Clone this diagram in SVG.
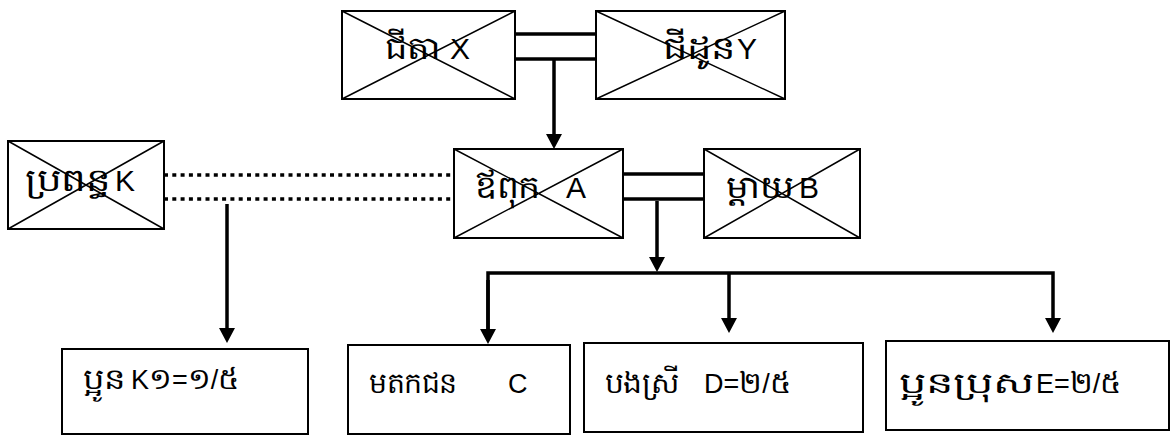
<svg xmlns="http://www.w3.org/2000/svg" width="1174" height="435" viewBox="0 0 1174 435">
<style>
.box{fill:#fff;stroke:#000;stroke-width:2}
.diag{stroke:#000;stroke-width:1.5;fill:none}
.con{stroke:#000;stroke-width:3.5;fill:none}
.dot{stroke:#000;stroke-width:3.5;fill:none;stroke-dasharray:4 4.3}
text{font-family:"Liberation Sans","Noto Sans","DejaVu Sans",sans-serif;fill:#000}
.t{font-size:30px}
.b{font-size:27px}
.kt{font-size:32px}
.kb{font-size:29px}
.kd{font-size:30px}
</style>
<defs>
<marker id="ah" markerUnits="userSpaceOnUse" viewBox="0 0 15 16" refX="5" refY="8" markerWidth="15" markerHeight="16" orient="auto">
<path d="M0,0 L15,8 L0,16 Z" fill="#000"/>
</marker>
</defs>
<g id="connectors">
<line class="con" x1="515" y1="34" x2="596" y2="34"/>
<line class="con" x1="515" y1="59" x2="596" y2="59"/>
<line class="con" x1="554" y1="59" x2="554" y2="139" marker-end="url(#ah)"/>
<line class="con" x1="623" y1="174" x2="704" y2="174"/>
<line class="con" x1="623" y1="199" x2="704" y2="199"/>
<line class="con" x1="657" y1="201" x2="657" y2="262" marker-end="url(#ah)"/>
<line class="dot" x1="164" y1="175" x2="454" y2="175"/>
<line class="dot" x1="164" y1="199" x2="454" y2="199"/>
<line class="con" x1="227" y1="204" x2="227" y2="333" marker-end="url(#ah)"/>
<polyline class="con" points="488,334 488,273 1053,273 1053,323" marker-end="url(#ah)"/>
<line class="con" x1="488" y1="280" x2="488" y2="334" marker-end="url(#ah)"/>
<line class="con" x1="729" y1="273" x2="729" y2="323" marker-end="url(#ah)"/>
</g>
<g id="node-x">
<rect class="box" x="342" y="11" width="173" height="88"/>
<path class="diag" d="M342,11 L515,99 M515,11 L342,99"/>
<text class="kt" x="385" y="59" textLength="55" lengthAdjust="spacingAndGlyphs">ជីតា</text>
<text class="t" x="450" y="59">X</text>
</g>
<g id="node-y">
<rect class="box" x="596" y="11" width="189" height="88"/>
<path class="diag" d="M596,11 L785,99 M785,11 L596,99"/>
<text class="kt" x="663" y="59" textLength="72" lengthAdjust="spacingAndGlyphs">ជីដូន</text>
<text class="t" x="737" y="59">Y</text>
</g>
<g id="node-k">
<rect class="box" x="8" y="141" width="156" height="88"/>
<path class="diag" d="M8,141 L164,229 M164,141 L8,229"/>
<text class="kt" x="25" y="191" textLength="85" lengthAdjust="spacingAndGlyphs">ប្រពន្ធ</text>
<text class="t" x="115" y="191">K</text>
</g>
<g id="node-a">
<rect class="box" x="454" y="149" width="169" height="89"/>
<path class="diag" d="M454,149 L623,238 M623,149 L454,238"/>
<text class="kt" x="475" y="198" textLength="65" lengthAdjust="spacingAndGlyphs">ឪពុក</text>
<text class="t" x="566" y="198">A</text>
</g>
<g id="node-b">
<rect class="box" x="704" y="149" width="156" height="89"/>
<path class="diag" d="M704,149 L860,238 M860,149 L704,238"/>
<text class="kt" x="726" y="198" textLength="67" lengthAdjust="spacingAndGlyphs">ម្តាយ</text>
<text class="t" x="799" y="198">B</text>
</g>
<g id="node-k1">
<rect class="box" x="62" y="349" width="246" height="85"/>
<text class="kb" x="83" y="389" textLength="42" lengthAdjust="spacingAndGlyphs">ប្អូន</text>
<text class="b" x="131" y="389">K<tspan class="kd">១</tspan>=<tspan class="kd">១</tspan>/<tspan class="kd">៥</tspan></text>
</g>
<g id="node-c">
<rect class="box" x="348" y="345" width="222" height="89"/>
<text class="kb" x="369" y="393" textLength="88" lengthAdjust="spacingAndGlyphs">មតកជន</text>
<text class="b" x="508" y="393">C</text>
</g>
<g id="node-d">
<rect class="box" x="584" y="343" width="279" height="89"/>
<text class="kb" x="605" y="393" textLength="75" lengthAdjust="spacingAndGlyphs">បងស្រី</text>
<text class="b" x="704" y="393">D=<tspan class="kd">២</tspan>/<tspan class="kd">៥</tspan></text>
</g>
<g id="node-e">
<rect class="box" x="886" y="341" width="283" height="89"/>
<text class="kb" x="899" y="393" textLength="136" lengthAdjust="spacingAndGlyphs">ប្អូនប្រុស</text>
<text class="b" x="1036" y="393">E=<tspan class="kd">២</tspan>/<tspan class="kd">៥</tspan></text>
</g>
</svg>
